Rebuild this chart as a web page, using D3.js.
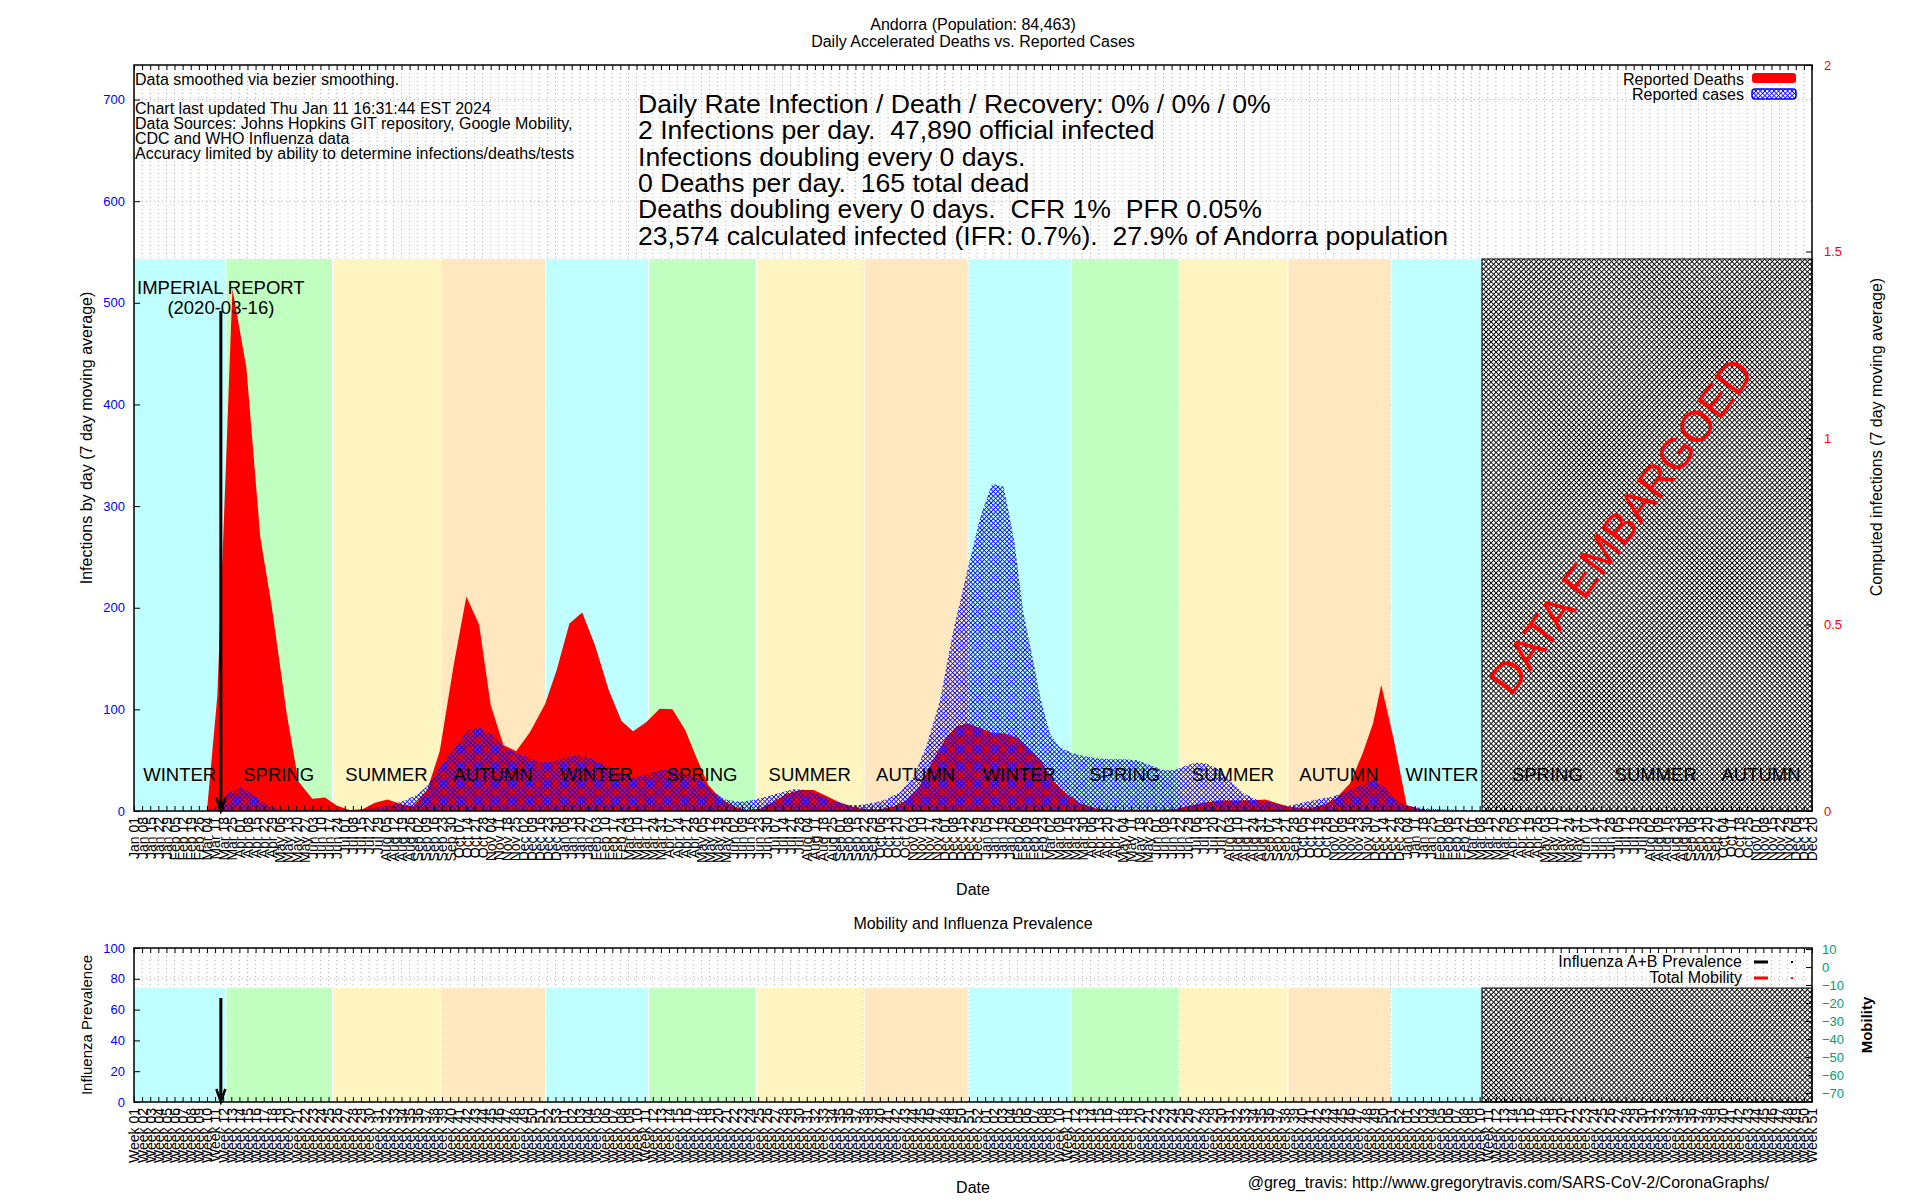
<!DOCTYPE html>
<html><head><meta charset="utf-8">
<script src="https://cdn.jsdelivr.net/npm/d3@7"></script>
<style>
body{margin:0;background:#fff;}
svg text{font-family:"Liberation Sans",Arial,Helvetica,sans-serif;}
</style></head>
<body><svg id="c" width="1920" height="1200"></svg>
<script>
// ---------------- DATA ----------------
const deathDates = ["2020-01-01","2020-03-04","2020-03-13","2020-03-26","2020-04-07","2020-04-19","2020-04-29","2020-05-12","2020-05-22","2020-06-03","2020-06-14","2020-06-24","2020-07-05","2020-07-16","2020-07-27","2020-08-07","2020-08-20","2020-08-29","2020-09-10","2020-09-21","2020-10-03","2020-10-14","2020-10-25","2020-11-04","2020-11-15","2020-11-26","2020-12-08","2020-12-21","2020-12-31","2021-01-11","2021-01-22","2021-02-02","2021-02-14","2021-02-25","2021-03-07","2021-03-18","2021-03-30","2021-04-10","2021-04-21","2021-05-01","2021-05-11","2021-05-21","2021-06-02","2021-06-13","2021-06-25","2021-07-06","2021-07-17","2021-07-29","2021-08-10","2021-08-21","2021-08-31","2021-09-12","2021-09-23","2021-10-05","2021-10-18","2021-10-29","2021-11-09","2021-11-21","2021-12-01","2021-12-11","2021-12-21","2022-01-01","2022-01-11","2022-01-22","2022-02-03","2022-02-13","2022-02-22","2022-03-04","2022-03-16","2022-03-28","2022-04-11","2022-05-01","2022-05-25","2022-06-17","2022-06-28","2022-07-12","2022-07-27","2022-08-10","2022-08-25","2022-09-04","2022-09-14","2022-09-26","2022-10-10","2022-10-24","2022-11-04","2022-11-16","2022-11-27","2022-12-06","2022-12-13","2022-12-24","2023-01-04","2023-01-16","2023-02-05","2023-03-10"];
const deathValues = [0,0,0.31,1.40,1.19,0.736,0.547,0.259,0.079,0.033,0.036,0.015,0.003,0.004,0.022,0.031,0.017,0.012,0.054,0.16,0.39,0.575,0.50,0.284,0.177,0.16,0.212,0.287,0.378,0.503,0.532,0.445,0.324,0.241,0.214,0.237,0.274,0.273,0.217,0.141,0.070,0.034,0.012,0.003,0.007,0.025,0.045,0.056,0.056,0.040,0.025,0.012,0.005,0.005,0.012,0.029,0.065,0.137,0.19,0.226,0.235,0.222,0.21,0.208,0.195,0.164,0.137,0.083,0.047,0.021,0.007,0.003,0.003,0.005,0.012,0.022,0.028,0.028,0.029,0.031,0.021,0.010,0.007,0.016,0.034,0.074,0.155,0.235,0.338,0.19,0.016,0.005,0,0];

const caseDates = ["2020-01-01","2020-03-03","2020-03-15","2020-03-22","2020-04-03","2020-04-13","2020-04-25","2020-05-06","2020-05-18","2020-06-04","2020-06-21","2020-07-08","2020-07-25","2020-08-09","2020-08-21","2020-09-01","2020-09-11","2020-09-21","2020-10-03","2020-10-15","2020-10-26","2020-11-05","2020-11-15","2020-11-25","2020-12-05","2020-12-17","2020-12-28","2021-01-09","2021-01-19","2021-01-29","2021-02-10","2021-02-21","2021-03-05","2021-03-18","2021-03-30","2021-04-11","2021-04-22","2021-05-04","2021-05-15","2021-05-27","2021-06-08","2021-06-19","2021-06-30","2021-07-12","2021-07-23","2021-08-04","2021-08-15","2021-08-27","2021-09-08","2021-09-19","2021-10-01","2021-10-12","2021-10-24","2021-11-04","2021-11-15","2021-11-27","2021-12-08","2021-12-20","2022-01-01","2022-01-11","2022-01-21","2022-01-30","2022-02-07","2022-02-16","2022-02-22","2022-03-02","2022-03-10","2022-03-21","2022-03-31","2022-04-11","2022-04-23","2022-05-04","2022-05-16","2022-05-28","2022-06-08","2022-06-17","2022-06-26","2022-07-05","2022-07-14","2022-07-24","2022-08-04","2022-08-16","2022-08-28","2022-09-11","2022-09-23","2022-10-04","2022-10-19","2022-11-01","2022-11-13","2022-11-25","2022-12-06","2022-12-15","2022-12-24","2023-01-04","2023-01-19","2023-02-02","2023-02-20","2023-03-10"];
const caseValues = [0,0,4.5,17.7,23.3,15.7,5.3,1.5,1,1.5,1,1,2.6,5.3,10.1,15.7,25.3,42.3,61,79.8,81.6,76,63,57.3,53.5,47.6,48.5,53.4,55,51.8,45.2,38.7,32.2,35.4,40.3,40.3,37,30.5,19,10.8,9.2,10.8,14,18,21.3,20.7,15.7,10.1,5.9,5.9,8.2,11.5,19,33.7,63,109,175,234,290,322,319,267,195,145,110,76,63,57,54,52,51,51,50,45,40,40,44,47.5,47,42,30.5,17.4,10.8,7.6,4.9,7.6,11.5,14,19,25.6,30.5,24,12.5,4.9,2.6,1.6,1,1];

const seasonStarts = ["2020-01-01","2020-03-20","2020-06-20","2020-09-22","2020-12-21","2021-03-20","2021-06-21","2021-09-22","2021-12-21","2022-03-20","2022-06-21","2022-09-23","2022-12-21","2023-03-20","2023-06-21","2023-09-23","2023-12-20"];
const seasonNames = ["WINTER","SPRING","SUMMER","AUTUMN","WINTER","SPRING","SUMMER","AUTUMN","WINTER","SPRING","SUMMER","AUTUMN","WINTER","SPRING","SUMMER","AUTUMN"];
const seasonColors = {WINTER:"#bfffff",SPRING:"#c0ffc0",SUMMER:"#fff5c0",AUTUMN:"#ffe8c0"};

const xDomain = ["2020-01-01","2023-12-20"];
const embargoStart = "2023-03-10";
const imperialDate = "2020-03-16";
const tickStepDays = 7;

const leftTicks = [0,100,200,300,400,500,600,700];
const rightTicks = [0,0.5,1,1.5,2];
const fluTicks = [0,20,40,60,80,100];
const mobilityTicks = [10,0,-10,-20,-30,-40,-50,-60,-70];

const titleLines = ["Andorra (Population: 84,463)","Daily Accelerated Deaths vs. Reported Cases"];
const infoLine0 = "Data smoothed via bezier smoothing.";
const infoLines = ["Chart last updated Thu Jan 11 16:31:44 EST 2024","Data Sources: Johns Hopkins GIT repository, Google Mobility,","CDC and WHO Influenza data","Accuracy limited by ability to determine infections/deaths/tests"];
const statLines = ["Daily Rate Infection / Death / Recovery: 0% / 0% / 0%","2 Infections per day.  47,890 official infected","Infections doubling every 0 days.","0 Deaths per day.  165 total dead","Deaths doubling every 0 days.  CFR 1%  PFR 0.05%","23,574 calculated infected (IFR: 0.7%).  27.9% of Andorra population"];

// ---------------- SETUP ----------------
const svg = d3.select("#c");
const parse = d3.utcParse("%Y-%m-%d");
const X0 = 134, X1 = 1812, MT = 65, MB = 811, BT = 948, BB = 1102;

const x = d3.scaleUtc().domain(xDomain.map(parse)).range([X0, X1]);
const yL = d3.scaleLinear().domain([0, 734]).range([MB, MT]);
const yR = d3.scaleLinear().domain([0, 2]).range([MB, MT]);
const yBL = d3.scaleLinear().domain([0, 100]).range([BB, BT]);
const yBR = d3.scaleLinear().domain([-75, 10.6]).range([BB, BT]);

const weekTicks = d3.utcDay.range(parse(xDomain[0]), d3.utcDay.offset(parse(xDomain[1]), 1), tickStepDays);

const defs = svg.append("defs");
const pb = defs.append("pattern").attr("id","blueHatch").attr("patternUnits","userSpaceOnUse")
  .attr("width",3.2).attr("height",3.2).attr("patternTransform","rotate(45)");
pb.append("rect").attr("x",0).attr("y",0).attr("width",3.2).attr("height",0.8).attr("fill","#0000ff");
pb.append("rect").attr("x",0).attr("y",0).attr("width",0.8).attr("height",3.2).attr("fill","#0000ff");

const pe = defs.append("pattern").attr("id","embHatch").attr("patternUnits","userSpaceOnUse")
  .attr("width",3.55).attr("height",3.55).attr("patternTransform","rotate(45)");
pe.append("rect").attr("width",3.55).attr("height",3.55).attr("fill","#ffffff");
pe.append("rect").attr("x",0).attr("y",0).attr("width",3.55).attr("height",0.9).attr("fill","#000");
pe.append("rect").attr("x",0).attr("y",0).attr("width",0.9).attr("height",3.55).attr("fill","#000");

const FONT = 16;

function grid(top, bottom, yScale, yTicks) {
  const g = svg.append("g");
  g.selectAll("line.v").data(weekTicks).join("line")
    .attr("x1", d => x(d)).attr("x2", d => x(d)).attr("y1", top).attr("y2", bottom)
    .attr("stroke", "#b4b4b4").attr("stroke-width", 1).attr("stroke-dasharray", "1,3");
  g.selectAll("line.h").data(yTicks).join("line")
    .attr("x1", X0).attr("x2", X1).attr("y1", d => yScale(d)).attr("y2", d => yScale(d))
    .attr("stroke", "#b4b4b4").attr("stroke-width", 1).attr("stroke-dasharray", "1,3");
}

function bands(top, bottom) {
  const bandTop = bottom - 0.74 * (bottom - top);
  const g = svg.append("g");
  const items = seasonNames.map((n, i) => ({name: n, s: parse(seasonStarts[i]), e: parse(seasonStarts[i+1]), i}));
  g.selectAll("rect").data(items).join("rect")
    .attr("x", d => x(d.s) + (d.i > 0 ? 1 : 0))
    .attr("width", d => Math.max(0, x(d.e) - x(d.s) - (d.i > 0 ? 1 : 0)))
    .attr("y", bandTop).attr("height", bottom - bandTop)
    .attr("fill", d => seasonColors[d.name]);
  return {items, bandTop};
}

// ---------------- MAIN PANEL ----------------
grid(MT, MB, yL, leftTicks);
const mainBands = bands(MT, MB);

const deaths = deathDates.map((d, i) => ({d: parse(d), v: deathValues[i]}));
const cases = caseDates.map((d, i) => ({d: parse(d), v: caseValues[i]}));

svg.append("path").datum(deaths)
  .attr("d", d3.area().x(d => x(d.d)).y0(yR(0)).y1(d => yR(d.v)).curve(d3.curveLinear))
  .attr("fill", "#ff0000");
svg.append("path").datum(cases)
  .attr("d", d3.area().x(d => x(d.d)).y0(yL(0)).y1(d => yL(d.v)).curve(d3.curveLinear))
  .attr("fill", "url(#blueHatch)");

// embargo hatch
const ex = x(parse(embargoStart));
svg.append("rect").attr("x", ex).attr("y", mainBands.bandTop).attr("width", X1 - ex).attr("height", MB - mainBands.bandTop)
  .attr("fill", "url(#embHatch)").attr("stroke", "#000").attr("stroke-width", 1);

// season labels
svg.append("g").selectAll("text").data(mainBands.items).join("text")
  .attr("x", d => (x(d.s) + x(d.e)) / 2).attr("y", 781)
  .attr("text-anchor", "middle").attr("font-size", 18.5).attr("fill", "#000")
  .text(d => d.name);

// DATA EMBARGOED
svg.append("text").attr("transform", "translate(1621,526) rotate(-53)")
  .attr("text-anchor", "middle").attr("dominant-baseline", "central")
  .attr("font-size", 44).attr("fill", "#ff0000").text("DATA EMBARGOED");

// Imperial report arrow
const ix = x(parse(imperialDate));
function arrow(xp, y1, y2) {
  svg.append("line").attr("x1", xp).attr("x2", xp).attr("y1", y1).attr("y2", y2 - 2)
    .attr("stroke", "#000").attr("stroke-width", 3);
  svg.append("path").attr("d", `M${xp-4.5},${y2-13}L${xp},${y2}L${xp+4.5},${y2-13}`)
    .attr("stroke", "#000").attr("stroke-width", 2.5).attr("fill", "none");
}
arrow(ix, 311, MB);
svg.append("text").attr("x", ix).attr("y", 294).attr("text-anchor", "middle").attr("font-size", 18.5).text("IMPERIAL REPORT");
svg.append("text").attr("x", ix).attr("y", 314).attr("text-anchor", "middle").attr("font-size", 18.5).text("(2020-03-16)");

// texts
svg.append("g").selectAll("text").data(titleLines).join("text")
  .attr("x", (X0 + X1) / 2).attr("y", (d, i) => 30 + i * 16.5).attr("text-anchor", "middle")
  .attr("font-size", FONT).text(d => d);
svg.append("text").attr("x", X0 + 1).attr("y", 85).attr("font-size", FONT).text(infoLine0);
svg.append("g").selectAll("text").data(infoLines).join("text")
  .attr("x", X0 + 1).attr("y", (d, i) => 114 + i * 15.1).attr("font-size", FONT).text(d => d);
svg.append("g").selectAll("text").data(statLines).join("text")
  .attr("x", 638).attr("y", (d, i) => 113 + i * 26.3).attr("font-size", 26.6).style("white-space", "pre")
  .attr("xml:space", "preserve").text(d => d);

// legend
svg.append("text").attr("x", 1744).attr("y", 84.5).attr("text-anchor", "end").attr("font-size", FONT).text("Reported Deaths");
svg.append("text").attr("x", 1744).attr("y", 99.5).attr("text-anchor", "end").attr("font-size", FONT).text("Reported cases");
svg.append("rect").attr("x", 1752).attr("y", 73).attr("width", 44).attr("height", 10).attr("rx", 3).attr("fill", "#ff0000");
svg.append("rect").attr("x", 1752).attr("y", 89).attr("width", 44).attr("height", 10).attr("rx", 3)
  .attr("fill", "url(#blueHatch)").attr("stroke", "#0000ff").attr("stroke-width", 1.5);

// axes main
const axL = svg.append("g").attr("transform", `translate(${X0},0)`)
  .call(d3.axisLeft(yL).tickValues(leftTicks).tickSizeInner(-6).tickSizeOuter(0).tickPadding(9));
const axR = svg.append("g").attr("transform", `translate(${X1},0)`)
  .call(d3.axisRight(yR).tickValues(rightTicks).tickSizeInner(-6).tickSizeOuter(0).tickPadding(12).tickFormat(d => String(d)));
const axB = svg.append("g").attr("transform", `translate(0,${MB})`)
  .call(d3.axisBottom(x).tickValues(weekTicks).tickSizeInner(-5).tickSizeOuter(0).tickFormat(d3.utcFormat("%b %d")));
const axT = svg.append("g").attr("transform", `translate(0,${MT})`)
  .call(d3.axisTop(x).tickValues(weekTicks).tickSizeInner(-5).tickSizeOuter(0).tickFormat(""));

function styleAxis(ax, color, size) {
  ax.select(".domain").remove();
  ax.selectAll("line").attr("stroke", "#000").attr("stroke-width", 1);
  ax.selectAll("text").attr("fill", color).attr("font-size", size)
    .attr("font-family", '"Liberation Sans",Arial,sans-serif');
}
styleAxis(axL, "#0000ff", 13);
styleAxis(axR, "#ff0000", 13);
styleAxis(axB, "#000", 14);
styleAxis(axT, "#000", 14);
axB.selectAll("text").attr("transform", "rotate(-90)").attr("text-anchor", "end")
  .attr("x", -6).attr("y", 0).attr("dy", "0.35em");

svg.append("rect").attr("x", X0).attr("y", MT).attr("width", X1 - X0).attr("height", MB - MT)
  .attr("fill", "none").attr("stroke", "#000").attr("stroke-width", 1.5);

svg.append("text").attr("transform", "translate(86,438) rotate(-90)").attr("text-anchor", "middle")
  .attr("dominant-baseline", "central").attr("font-size", FONT).text("Infections by day (7 day moving average)");
svg.append("text").attr("transform", "translate(1876,437) rotate(-90)").attr("text-anchor", "middle")
  .attr("dominant-baseline", "central").attr("font-size", FONT).text("Computed infections (7 day moving average)");
svg.append("text").attr("x", (X0 + X1) / 2).attr("y", 895).attr("text-anchor", "middle").attr("font-size", FONT).text("Date");

// ---------------- BOTTOM PANEL ----------------
svg.append("text").attr("x", (X0 + X1) / 2).attr("y", 929).attr("text-anchor", "middle").attr("font-size", FONT).text("Mobility and Influenza Prevalence");
grid(BT, BB, yBL, fluTicks);
const botBands = bands(BT, BB);
svg.append("rect").attr("x", ex).attr("y", botBands.bandTop).attr("width", X1 - ex).attr("height", BB - botBands.bandTop)
  .attr("fill", "url(#embHatch)").attr("stroke", "#000").attr("stroke-width", 1);
arrow(ix, 998, BB);

// bottom legend
svg.append("text").attr("x", 1742).attr("y", 967).attr("text-anchor", "end").attr("font-size", FONT).text("Influenza A+B Prevalence");
svg.append("text").attr("x", 1742).attr("y", 983).attr("text-anchor", "end").attr("font-size", FONT).text("Total Mobility");
svg.append("line").attr("x1", 1754).attr("x2", 1768).attr("y1", 962).attr("y2", 962).attr("stroke", "#000").attr("stroke-width", 3);
svg.append("rect").attr("x", 1791).attr("y", 961).attr("width", 2).attr("height", 2).attr("fill", "#000");
svg.append("line").attr("x1", 1754).attr("x2", 1768).attr("y1", 978).attr("y2", 978).attr("stroke", "#ff0000").attr("stroke-width", 3);
svg.append("rect").attr("x", 1791).attr("y", 977).attr("width", 2).attr("height", 2).attr("fill", "#ff0000");

const bL = svg.append("g").attr("transform", `translate(${X0},0)`)
  .call(d3.axisLeft(yBL).tickValues(fluTicks).tickSizeInner(-6).tickSizeOuter(0).tickPadding(9));
const bR = svg.append("g").attr("transform", `translate(${X1},0)`)
  .call(d3.axisRight(yBR).tickValues(mobilityTicks).tickSizeInner(-6).tickSizeOuter(0).tickPadding(10));
const bB = svg.append("g").attr("transform", `translate(0,${BB})`)
  .call(d3.axisBottom(x).tickValues(weekTicks).tickSizeInner(-5).tickSizeOuter(0).tickFormat(d3.utcFormat("Week %V")));
const bT = svg.append("g").attr("transform", `translate(0,${BT})`)
  .call(d3.axisTop(x).tickValues(weekTicks).tickSizeInner(-5).tickSizeOuter(0).tickFormat(""));
styleAxis(bL, "#0000ff", 13);
styleAxis(bR, "#009e73", 13);
styleAxis(bB, "#000", 14);
styleAxis(bT, "#000", 14);
bB.selectAll("text").attr("transform", "rotate(-90)").attr("text-anchor", "end")
  .attr("x", -6).attr("y", 0).attr("dy", "0.35em");

svg.append("rect").attr("x", X0).attr("y", BT).attr("width", X1 - X0).attr("height", BB - BT)
  .attr("fill", "none").attr("stroke", "#000").attr("stroke-width", 1.5);

svg.append("text").attr("transform", "translate(86,1025) rotate(-90)").attr("text-anchor", "middle")
  .attr("dominant-baseline", "central").attr("font-size", 15).text("Influenza Prevalence");
svg.append("text").attr("transform", "translate(1866,1025) rotate(-90)").attr("text-anchor", "middle")
  .attr("dominant-baseline", "central").attr("font-size", 15).attr("font-weight", "bold").text("Mobility");
svg.append("text").attr("x", (X0 + X1) / 2).attr("y", 1193).attr("text-anchor", "middle").attr("font-size", FONT).text("Date");
svg.append("text").attr("x", 1769).attr("y", 1188).attr("text-anchor", "end").attr("font-size", FONT)
  .text("@greg_travis: http://www.gregorytravis.com/SARS-CoV-2/CoronaGraphs/");
</script>
</body></html>
